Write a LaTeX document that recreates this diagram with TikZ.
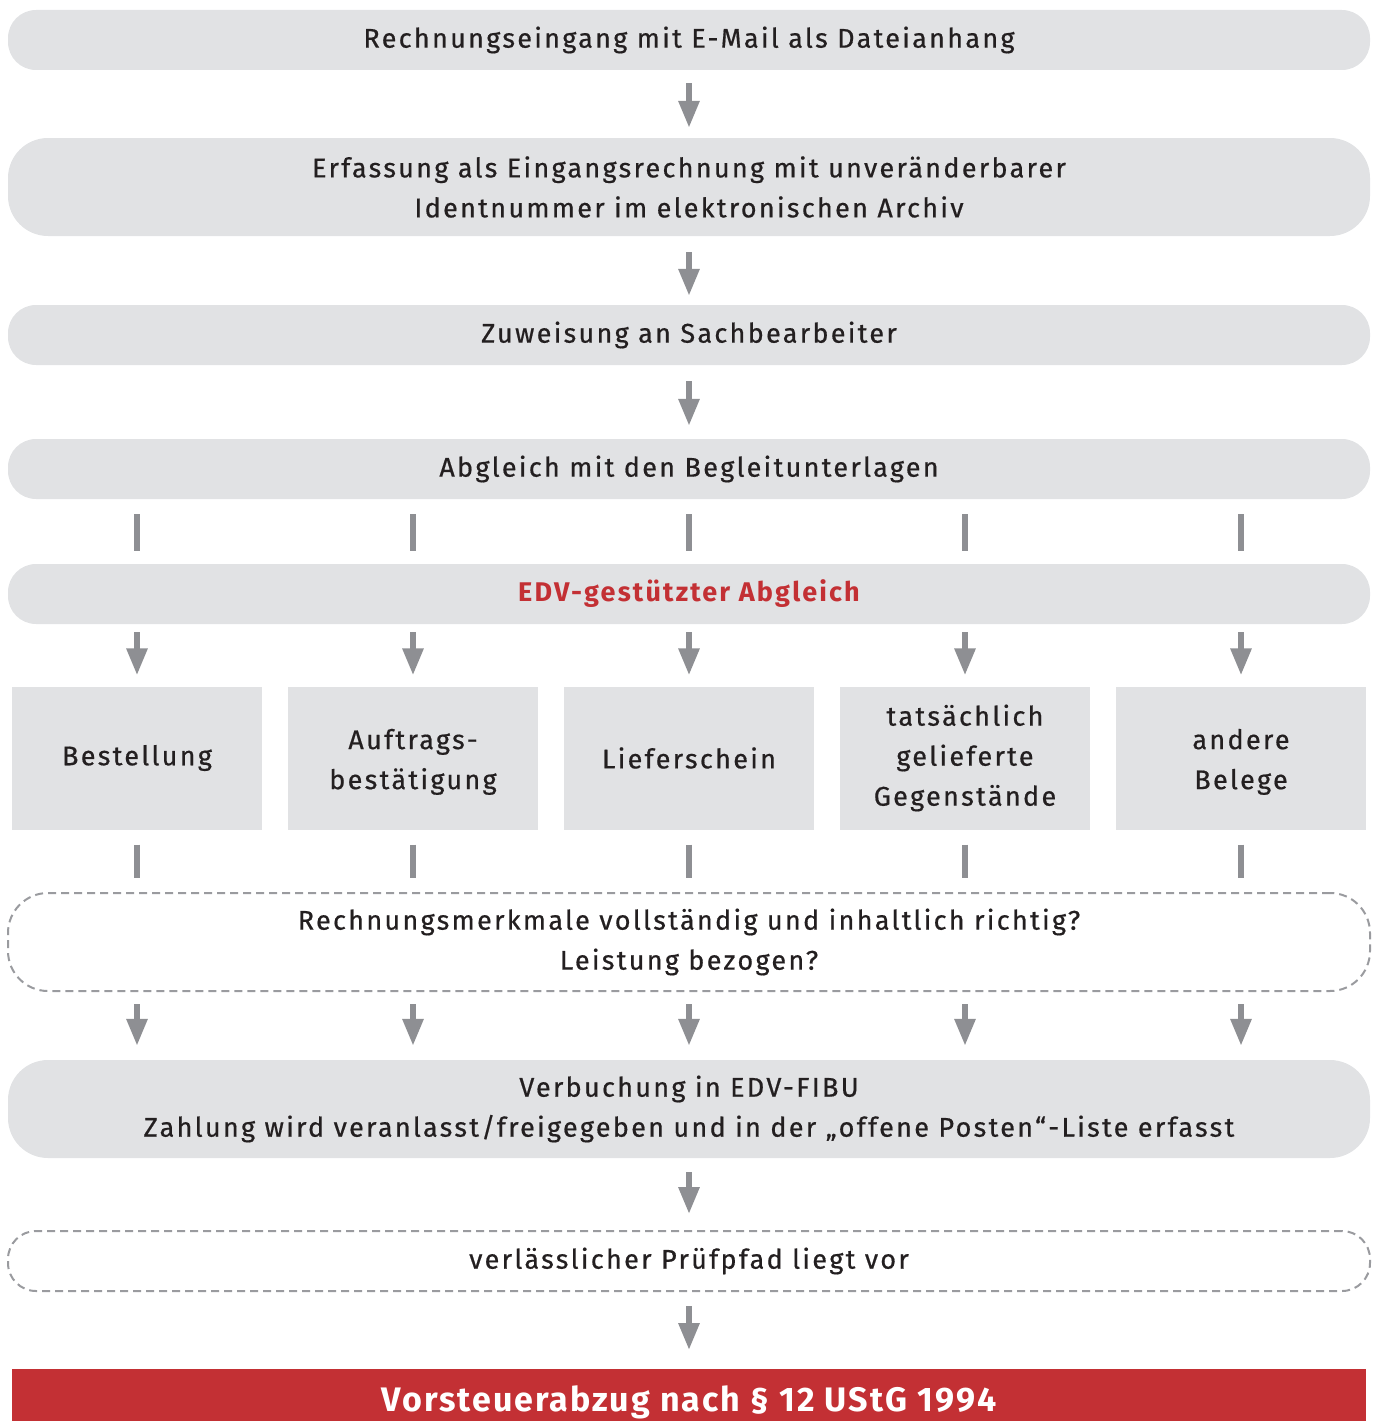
\documentclass[tikz,border=0pt]{standalone}
\usepackage{fontspec}
\setmainfont{Fira Sans}[LetterSpace=8.5, FakeBold=0.6]
\newfontfamily\boldfont{Fira Sans Bold}[LetterSpace=6]
\newfontfamily\redfont{Fira Sans Bold}[LetterSpace=8]
\usepackage{xcolor}
\usepackage{tikz}
\usetikzlibrary{shapes,arrows.meta,positioning,calc}

\definecolor{boxgray}{HTML}{E1E2E4}
\definecolor{arrowgray}{HTML}{8E8F93}
\definecolor{dashgray}{HTML}{9A9B9F}
\definecolor{darkred}{HTML}{C33034}
\definecolor{textdark}{HTML}{231F20}

\newcommand{\upstrut}{\rule{0pt}{28pt}}

\tikzset{
    bar/.style={rounded corners=28pt, fill=boxgray, minimum width=1362pt,
        minimum height=60pt, align=center, text=textdark, inner sep=0pt},
    tallbar/.style={bar, minimum height=98pt, rounded corners=40pt},
    dashbar/.style={bar, fill=none, draw=dashgray, line width=2pt,
        dash pattern=on 8pt off 5pt},
    docbox/.style={fill=boxgray, minimum width=250pt, minimum height=143pt,
        align=center, text=textdark, inner sep=0pt},
    flow/.style={draw=arrowgray, line width=6pt,
        -{Triangle[width=20pt, length=27pt]}},
    tick/.style={draw=arrowgray, line width=6pt}
}

\begin{document}
\begin{tikzpicture}[x=1pt, y=-1pt, font=\fontsize{27}{40}\selectfont]
    \useasboundingbox (0,0) rectangle (1375,1421);

    % Main chain
    \node[bar] (eingang) at (689,40) {Rechnungseingang mit E-Mail als Dateianhang};
    \node[tallbar] (erfassung) at (689,187) {Erfassung als Eingangsrechnung mit unveränderbarer\\Identnummer im elektronischen Archiv};
    \node[bar] (zuweisung) at (689,335) {Zuweisung an Sachbearbeiter};
    \node[bar] (abgleich) at (689,469) {Abgleich mit den Begleitunterlagen};
    \node[bar, text=darkred, font=\redfont\fontsize{27}{40}\selectfont] (edv) at (689,594) {EDV-gestützter Abgleich};

    % Documents
    \node[docbox] (bestellung) at (137,758) {Bestellung};
    \node[docbox] (auftrag) at (413,758) {\upstrut Auftrags-\\bestätigung};
    \node[docbox] (liefer) at (689,758) {Lieferschein};
    \node[docbox] (geliefert) at (965,758) {tatsächlich\\gelieferte\\Gegenstände};
    \node[docbox] (andere) at (1241,758) {\upstrut andere\\Belege};

    \node[dashbar, tallbar, fill=none, draw=dashgray] (pruefung) at (689,942) {Rechnungsmerkmale vollständig und inhaltlich richtig?\\Leistung bezogen?};
    \node[tallbar] (verbuchung) at (689,1109) {Verbuchung in EDV-FIBU\\Zahlung wird veranlasst/freigegeben und in der „offene Posten“-Liste erfasst};
    \node[dashbar] (pfad) at (689,1261) {verlässlicher Prüfpfad liegt vor};

    % Result
    \fill[darkred] (12,1369) rectangle (1366,1440);
    \node[text=white, font=\boldfont\fontsize{34}{40}\selectfont, anchor=base] (abzug) at (689,1411) {Vorsteuerabzug nach § 12 UStG 1994};
    \coordinate (abzugtop) at (689,1369);

    % Arrows
    \draw[flow, shorten <=13pt, shorten >=10pt] (eingang) -- (erfassung);
    \draw[flow, shorten <=16pt, shorten >=9pt] (erfassung) -- (zuweisung);
    \draw[flow, shorten <=16pt, shorten >=13pt] (zuweisung) -- (abgleich);
    \foreach \doc in {bestellung, auftrag, liefer, geliefert, andere} {
        \draw[tick, shorten <=15pt, shorten >=13pt] (abgleich.south -| \doc) -- (edv.north -| \doc);
        \draw[flow, shorten <=8pt, shorten >=11pt] (edv.south -| \doc) -- (\doc);
        \draw[tick, shorten <=15pt, shorten >=14pt] (\doc) -- (pruefung.north -| \doc);
        \draw[flow, shorten <=12pt, shorten >=14pt] (pruefung.south -| \doc) -- (verbuchung.north -| \doc);
    }
    \draw[flow, shorten <=14pt, shorten >=16pt] (verbuchung) -- (pfad);
    \draw[flow, shorten <=14pt, shorten >=19pt] (pfad) -- (abzugtop);
\end{tikzpicture}
\end{document}
